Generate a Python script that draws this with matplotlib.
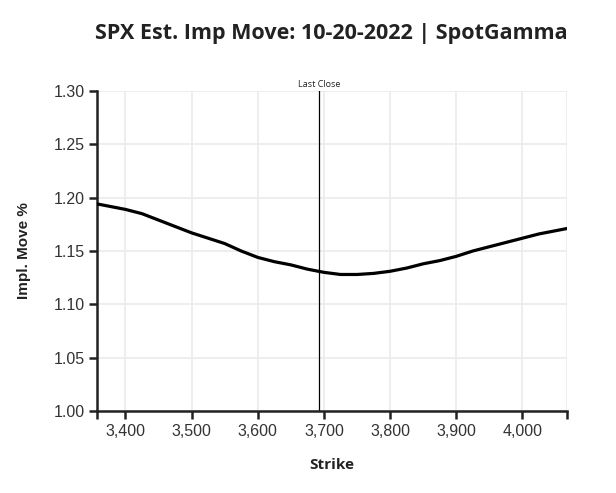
import numpy as np
import matplotlib.pyplot as plt
from matplotlib.ticker import FuncFormatter

# strikes and estimated implied move (%)
strikes = [3350, 3375, 3400, 3425, 3450, 3475, 3500, 3525, 3550, 3575,
           3600, 3625, 3650, 3675, 3700, 3725, 3750, 3775, 3800, 3825,
           3850, 3875, 3900, 3925, 3950, 3975, 4000, 4025, 4050, 4075]
impl_move = [1.195, 1.192, 1.189, 1.185, 1.179, 1.173, 1.167, 1.162, 1.157, 1.150,
             1.144, 1.140, 1.137, 1.133, 1.130, 1.128, 1.128, 1.129, 1.131, 1.134,
             1.138, 1.141, 1.145, 1.150, 1.154, 1.158, 1.162, 1.166, 1.169, 1.172]
last_close = 3693
x_lim = (3357, 4067)
x_ticks = [3400, 3500, 3600, 3700, 3800, 3900, 4000]
y_ticks = [1.00, 1.05, 1.10, 1.15, 1.20, 1.25, 1.30]

fig = plt.figure(figsize=(6.16, 4.93), dpi=100)
ax = fig.add_axes([0.1575, 0.1663, 0.7625, 0.6491])

ax.plot(strikes, impl_move, color='black', lw=2.3, solid_joinstyle='round', zorder=3)
ax.axvline(last_close, color='black', lw=0.9, zorder=2)
ax.text(last_close, 1.302, 'Last Close', ha='center', va='bottom',
        fontsize=6.5, family='Open Sans', color='#222222')

ax.set_xlim(*x_lim)
ax.set_ylim(1.00, 1.30)
ax.set_xticks(x_ticks)
ax.set_yticks(y_ticks)
ax.set_xticks(list(x_lim), minor=True)
ax.xaxis.set_major_formatter(FuncFormatter(lambda v, p: '{:,.0f}'.format(v)))
ax.yaxis.set_major_formatter(FuncFormatter(lambda v, p: '{:.2f}'.format(v)))

ax.grid(True, color='#ebebeb', lw=1.2, zorder=0)
ax.axvline(x_lim[1], color='#ebebeb', lw=1.2, zorder=0)
ax.set_axisbelow(True)

for s in ['top', 'right']:
    ax.spines[s].set_visible(False)
for s in ['left', 'bottom']:
    ax.spines[s].set_linewidth(1.8)
    ax.spines[s].set_color('#222222')
ax.tick_params(which='both', direction='out', length=6, width=1.8, color='#222222',
               labelsize=11.5, labelcolor='#333333', pad=3)
for lab in ax.get_xticklabels() + ax.get_yticklabels():
    lab.set_family('Liberation Sans')

ax.set_xlabel('Strike', fontsize=11, fontweight='bold', family='Open Sans',
              color='#222222', labelpad=14)
ax.set_ylabel('Impl. Move %', fontsize=11, fontweight='bold', family='Liberation Sans',
              color='#222222', labelpad=16)

fig.text(0.538, 0.932, 'SPX Est. Imp Move: 10-20-2022 | SpotGamma', ha='center', va='center',
         fontsize=15.5, fontweight='bold', family='Open Sans', color='#222222')

fig.savefig('out.png', dpi=100)
